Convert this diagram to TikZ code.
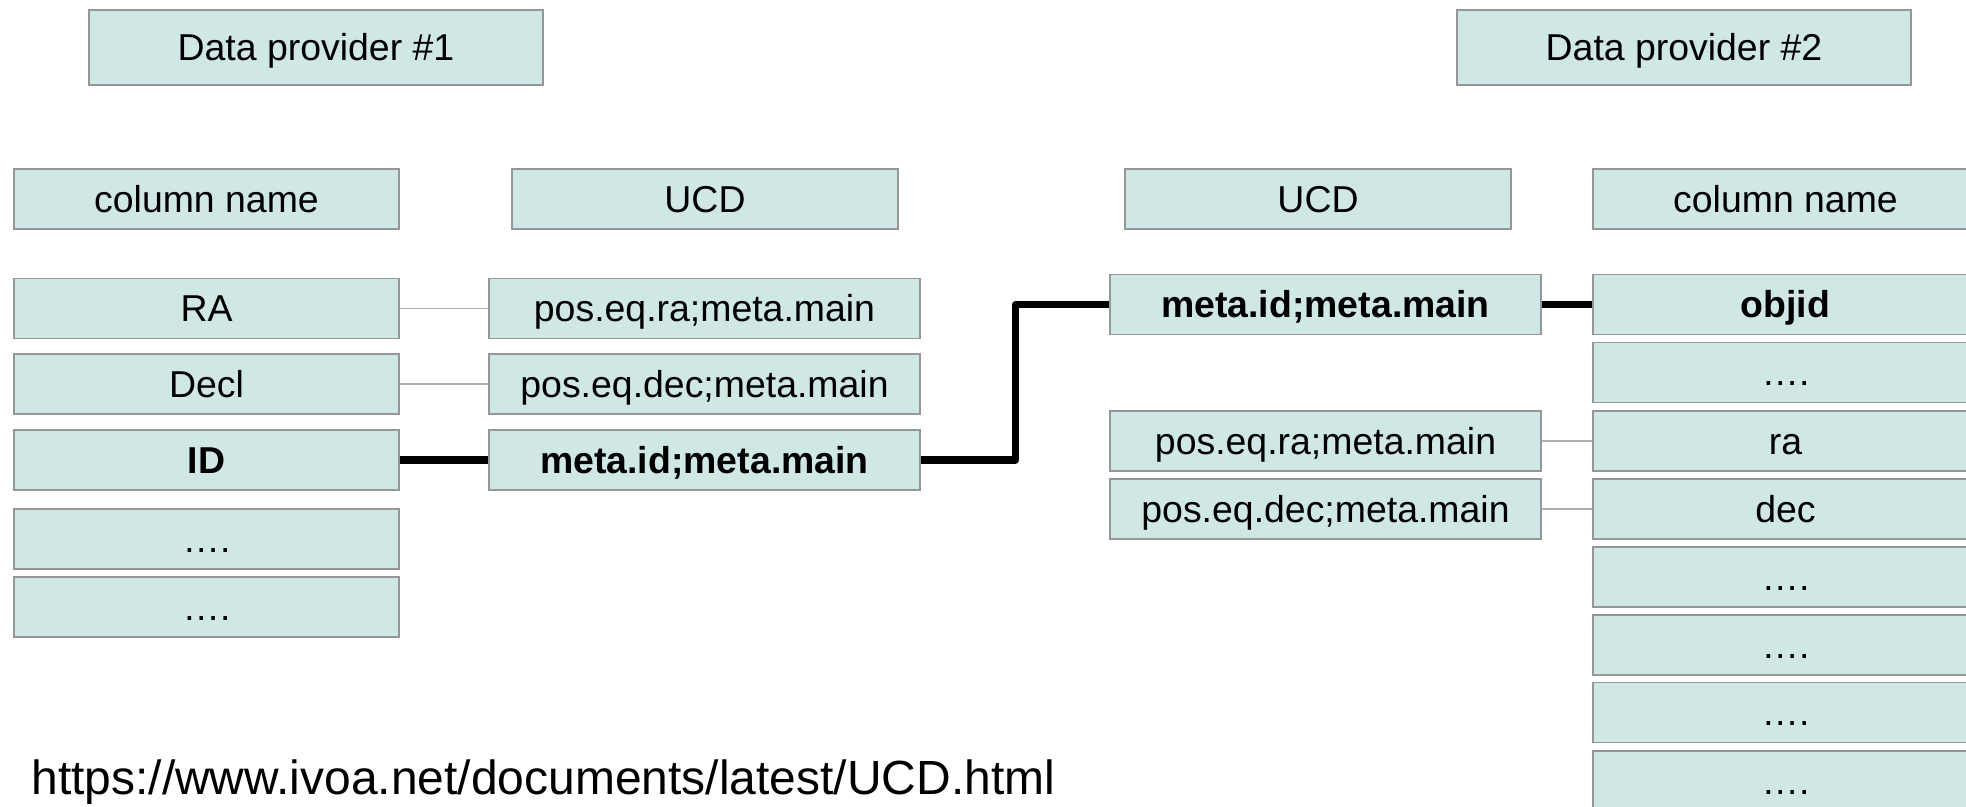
\documentclass[tikz,border=0pt]{standalone}
\usepackage{fontspec}
\setmainfont{Liberation Sans}
\definecolor{cellfill}{RGB}{207,231,229}
\definecolor{cellline}{RGB}{150,150,150}
\definecolor{thinline}{RGB}{175,175,175}
\tikzset{
  cell/.style={draw=cellline, line width=0.8pt, fill=cellfill, inner sep=0pt,
    minimum width=7.7cm, minimum height=1.2cm, font=\fontsize{21.3}{25}\selectfont,
    text height=15.3pt, text depth=0pt},
  ucdcell/.style={cell, minimum width=8.62cm},
  provider/.style={cell, minimum width=9.08cm, minimum height=1.5cm},
  keyline/.style={line width=4pt, line join=round},
  pairline/.style={draw=thinline, line width=0.7pt}
}
\begin{document}
\begin{tikzpicture}[x=0.02cm, y=-0.02cm]
      \useasboundingbox (0, 0) rectangle (1966, 807);
      % provider #1
      \node[provider] (dpa) at (316, 47.5) {Data provider \#1};
      \node[cell] (cola) at (206.5, 199) {column name};
      \node[cell, minimum width=7.72cm] (ucda) at (705, 199) {UCD};
      \node[cell] (ra) at (206.5, 308.5) {RA};
      \node[cell] (decl) at (206.5, 384) {Decl};
      \node[cell] (id) at (206.5, 460) {\bfseries ID};
      \node[cell] (dotsa) at (206.5, 539) {….};
      \node[cell] (dotsb) at (206.5, 607) {….};
      \node[ucdcell] (ucdra) at (704.5, 308.5) {pos.eq.ra;meta.main};
      \node[ucdcell] (ucddec) at (704.5, 384) {pos.eq.dec;meta.main};
      \node[ucdcell] (ucdid) at (704.5, 460) {\bfseries meta.id;meta.main};
      % provider #2
      \node[provider] (dpb) at (1684, 47.5) {Data provider \#2};
      \node[cell, minimum width=7.72cm] (ucdb) at (1318, 199) {UCD};
      \node[cell] (colb) at (1785.5, 199) {column name};
      \node[ucdcell] (ucdidb) at (1325.5, 304.5) {\bfseries meta.id;meta.main};
      \node[ucdcell] (ucdrab) at (1325.5, 441) {pos.eq.ra;meta.main};
      \node[ucdcell] (ucddecb) at (1325.5, 509) {pos.eq.dec;meta.main};
      \node[cell] (objid) at (1785.5, 304.5) {\bfseries objid};
      \node[cell] (dotsc) at (1785.5, 372.5) {….};
      \node[cell] (rab) at (1785.5, 441) {ra};
      \node[cell] (decb) at (1785.5, 509) {dec};
      \foreach \name/\y in {dotsd/577, dotse/645, dotsf/712.5, dotsg/781}
        \node[cell] (\name) at (1785.5, \y) {….};
      % links
      \draw[pairline] (ra) -- (ucdra);
      \draw[pairline] (decl) -- (ucddec);
      \draw[pairline] (ucdrab) -- (rab);
      \draw[pairline] (ucddecb) -- (decb);
      \draw[keyline] (id) -- (ucdid);
      \draw[keyline] (ucdid.east) -- ++(95, 0) |- (ucdidb.west);
      \draw[keyline] (ucdidb) -- (objid);
      \node[anchor=base west, inner sep=0pt, font=\fontsize{27.3}{32}\selectfont]
        (url) at (31, 794) {https://www.ivoa.net/documents/latest/UCD.html};
    \end{tikzpicture}
\end{document}
